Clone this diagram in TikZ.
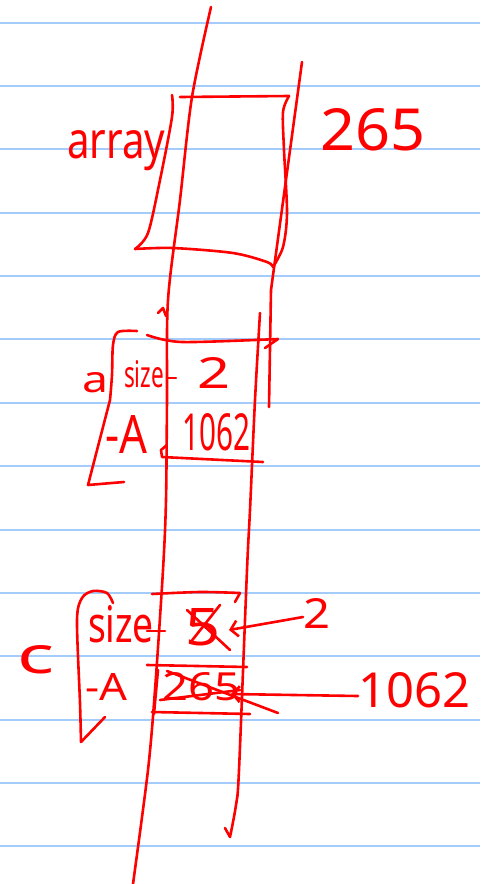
\documentclass[tikz,border=0pt]{standalone}
\usepackage{fontspec}
\setmainfont{Noto Sans}
\usetikzlibrary{arrows.meta}
\definecolor{ink}{RGB}{255,0,0}
\definecolor{rule}{RGB}{164,204,250}
\tikzset{
  ruled/.style={draw=rule, line width=2pt},
  pen/.style={draw=ink, line width=2.6pt, line cap=round, line join=round},
  hw/.style={anchor=base west, inner sep=0pt, outer sep=0pt, text=ink},
  hwarrow/.style={pen, {Straight Barb[length=7pt,width=16pt]}-}
}
\newcommand{\fit}[3]{\resizebox{#1pt}{#2pt}{#3}}
\begin{document}
\begin{tikzpicture}[x=1pt,y=-1pt]
\useasboundingbox (0,0) rectangle (480,884);
\fill[white] (0,0) rectangle (480,884);
% ruled paper
\foreach \k in {0,...,13}{
  \draw[ruled] (0,{22.7+63.35*\k}) -- (480,{22.7+63.35*\k});
}
% long vertical strokes
\draw[pen] plot[smooth] coordinates {(211,7) (192,97) (180,200) (168,300) (167,400) (166,500) (163,570) (155,690) (148,770) (133,884)};
\draw[pen] (302,62) -- (271,290) -- (269,407);
\draw[pen] plot[smooth] coordinates {(260,313) (255,400) (250,510) (247,570) (239,770) (236,805) (230,837)} -- (225,828);

% ---- array box ----
\node[hw] (array) at (67,158) {\fit{98}{28}{array}};
\node[hw] (v265) at (320,150) {\fit{105}{42}{265}};
\draw[pen] (180,97) -- (289,96);
\draw[pen] plot[smooth] coordinates {(289,96) (283,112) (284,150) (287,213) (283,247) (273,267)};
\draw[pen] plot[smooth] coordinates {(135,249) (173,248) (233,253) (267,262) (273,267)};
\draw[pen] plot[smooth] coordinates {(172,95) (172,117) (160,180) (148,233) (135,249)};

% ---- struct a ----
\node[hw] (la) at (82,392) {\fit{26}{20}{a}};
\node[hw] (asize) at (124,387) {\fit{40}{27}{size}};
\node[hw] (atwo) at (197,388) {\fit{33}{31}{2}};
\node[hw] (aA) at (105,453) {\fit{42}{38}{-A}};
\node[hw] (aptr) at (182,450) {\fit{68}{37}{1062}};
\draw[pen] plot[smooth] coordinates {(137,331) (118,332) (113,345) (112,375) (110,400)} -- (88,485) -- (124,482);
\draw[pen] plot[smooth] coordinates {(147,335) (182,342) (278,339)} -- (265,348);
\draw[pen] (158,313) -- (163,308) -- (166,316);
\draw[pen] (167,378) -- (176,378);
\draw[pen] (167,445) -- (161,450) -- (162,457) -- (263,462);

% ---- struct c ----
\node[hw] (lc) at (18,673) {\fit{37}{28}{c}};
\node[hw] (csize) at (88,642) {\fit{66}{37}{size}};
\node[hw] (cA) at (85,700) {\fit{42}{27}{-A}};
\node[hw] (cold) at (185,645) {\fit{35}{37}{5}};
\node[hw] (cold2) at (162,700) {\fit{78}{28}{265}};
\node[hw] (ctwo) at (303,628) {\fit{27}{30}{2}};
\node[hw] (cptr) at (358,707) {\fit{112}{35}{1062}};
\draw[pen] plot[smooth] coordinates {(113,603) (107,593) (93,591) (82,598) (77,620) (80,703) (81,742)} -- (105,717);
\draw[pen] plot[smooth] coordinates {(152,594) (200,592) (240,593)} -- (235,602);
\draw[pen] (147,631) -- (165,631);
\draw[pen] (147,665) -- (247,667);
\draw[pen] (152,712) -- (250,714);
\draw[pen] (158,670) -- (154,714);
% crossings
\draw[pen] (187,610) -- (230,650);
\draw[pen] (220,605) -- (190,643);
\draw[pen] (160,700) -- (240,690);
\draw[pen] (167,671) -- (278,713);
% arrows to the new values
\coordinate (tipsize) at (229,630);
\coordinate (tipptr) at (231,694);
\draw[hwarrow] (tipsize) -- (ctwo.west |- 0,617);
\draw[hwarrow] (tipptr) -- (cptr.west |- 0,696);
\end{tikzpicture}
\end{document}
